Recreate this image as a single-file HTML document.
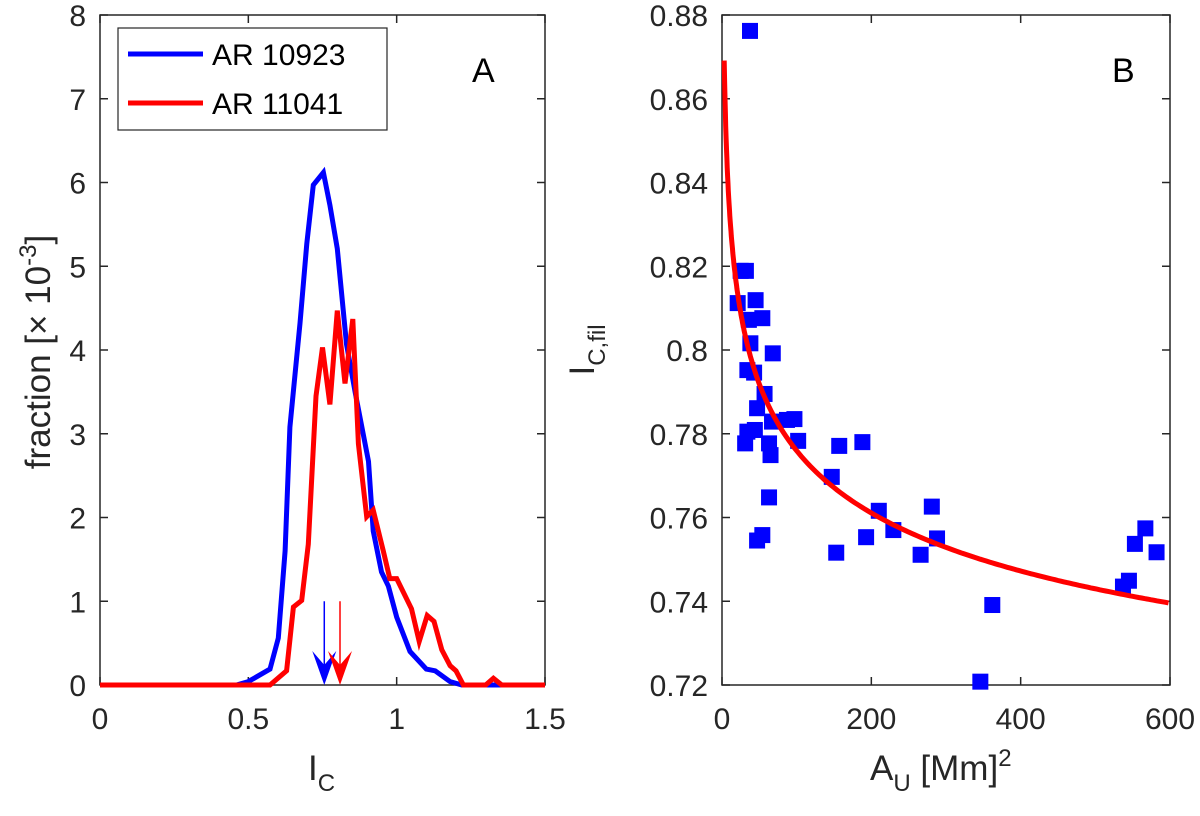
<!DOCTYPE html>
<html><head><meta charset="utf-8"><style>
html,body{margin:0;padding:0;background:#fff;}
svg{display:block;font-family:"Liberation Sans",Arial,sans-serif;}
</style></head><body>
<svg id="fig" width="1200" height="816" viewBox="0 0 1200 816"></svg>
<script>
// Panel A data
const histX_AR10923 = [0,0.46,0.5,0.573,0.601,0.624,0.64,0.674,0.697,0.719,0.753,0.775,0.8,0.831,0.86,0.905,0.921,0.949,0.972,1.0,1.045,1.1,1.13,1.18,1.22,1.5];
const histY_AR10923 = [0,0,0.04,0.19,0.56,1.6,3.08,4.32,5.27,5.97,6.12,5.73,5.21,4.07,3.5,2.67,1.84,1.35,1.18,0.81,0.4,0.19,0.17,0.04,0,0];
const histX_AR11041 = [0,0.573,0.629,0.652,0.68,0.702,0.728,0.75,0.775,0.8,0.826,0.852,0.871,0.899,0.921,0.955,0.977,1.0,1.05,1.076,1.103,1.126,1.152,1.18,1.2,1.225,1.3,1.326,1.354,1.5];
const histY_AR11041 = [0,0,0.17,0.93,1.01,1.68,3.45,4.03,3.35,4.47,3.6,4.37,2.88,2.01,2.09,1.6,1.27,1.27,0.91,0.52,0.83,0.76,0.42,0.23,0.17,0,0,0.08,0,0];
const meanIC = [0.756, 0.809];
const ticksAX = [0,0.5,1,1.5];
const ticksAY = [0,1,2,3,4,5,6,7,8];
// Panel B data
const areaU = [37.5,25,32,21,45,54,36,38,68,34,43,57,47,87,97,67,34,44,31,63,102,65,63,54,47,157,188,147,153,210,193,229.5,281,288,266,362,346,537,545,553,567,582];
const icFil = [0.8762,0.8189,0.8189,0.8112,0.8119,0.8076,0.8072,0.8016,0.7992,0.7952,0.7946,0.7895,0.7861,0.7833,0.7835,0.7829,0.7805,0.7809,0.7777,0.7777,0.7783,0.7749,0.7648,0.7558,0.7545,0.7771,0.7780,0.7697,0.7516,0.7616,0.7553,0.7570,0.7626,0.7550,0.7511,0.7391,0.7208,0.7435,0.7449,0.7537,0.7574,0.7517];
const fitParams = [0.5541, 0.3516, -0.1]; // y = a + b*x^c
const ticksBX = [0,200,400,600];
const ticksBY = [0.72,0.74,0.76,0.78,0.8,0.82,0.84,0.86,0.88];

const NS="http://www.w3.org/2000/svg";
const svg=document.getElementById('fig');
function mk(tag,attrs,parent){const e=document.createElementNS(NS,tag);for(const k in attrs)e.setAttribute(k,attrs[k]);(parent||svg).appendChild(e);return e;}

const A={x0:100,x1:545,y0:685,y1:15};
const ax=v=>A.x0+(v-0)/1.5*(A.x1-A.x0);
const ay=v=>A.y0-(v/8)*(A.y0-A.y1);
const B={x0:722,x1:1170,y0:685,y1:15};
const bx=v=>B.x0+v/600*(B.x1-B.x0);
const by=v=>B.y0-(v-0.72)/0.16*(B.y0-B.y1);

function drawAxes(P,xt,yt,fx,fy,fmtX,fmtY,name){
  const g=mk('g',{});
  
  
  const box=mk('rect',{x:P.x0,y:P.y1,width:P.x1-P.x0,height:P.y0-P.y1,fill:'none',stroke:'#262626','stroke-width':1.5},g);
  
  
  xt.forEach(t=>{const x=fx(t);
    mk('line',{x1:x,y1:P.y0,x2:x,y2:P.y0-8,stroke:'#262626','stroke-width':1.5},g);
    mk('line',{x1:x,y1:P.y1,x2:x,y2:P.y1+8,stroke:'#262626','stroke-width':1.5},g);
    const tx=mk('text',{x:x,y:P.y0+44,'font-size':30,'text-anchor':'middle',fill:'#262626'},g);
    tx.textContent=fmtX(t);
    
    
  });
  yt.forEach(t=>{const y=fy(t);
    mk('line',{x1:P.x0,y1:y,x2:P.x0+8,y2:y,stroke:'#262626','stroke-width':1.5},g);
    mk('line',{x1:P.x1,y1:y,x2:P.x1-8,y2:y,stroke:'#262626','stroke-width':1.5},g);
    const tx=mk('text',{x:P.x0-14,y:y+11,'font-size':30,'text-anchor':'end',fill:'#262626'},g);
    tx.textContent=fmtY(t);
    
    
  });
}
drawAxes(A,ticksAX,ticksAY,ax,ay,t=>String(t),t=>String(t),'panel-a');
drawAxes(B,ticksBX,ticksBY,bx,by,t=>String(t),t=>String(+t.toFixed(2)),'panel-b');

function poly(xs,ys,color,name){
  const pts=xs.map((x,i)=>ax(x).toFixed(1)+','+ay(ys[i]).toFixed(1)).join(' ');
  const p=mk('polyline',{points:pts,fill:'none',stroke:color,'stroke-width':5,'stroke-linejoin':'miter'});
  
  
}
poly(histX_AR10923,histY_AR10923,'#0000ff','line-ar10923');
poly(histX_AR11041,histY_AR11041,'#ff0000','line-ar11041');
['#0000ff','#ff0000'].forEach((c,i)=>{
  const x=ax(meanIC[i]);
  const g=mk('g',{});
  
  
  mk('line',{x1:x,y1:ay(1),x2:x,y2:ay(0)-10,stroke:c,'stroke-width':1.5},g);
  mk('polygon',{points:`${x-12},${ay(0)-34} ${x},${ay(0)-20} ${x+12},${ay(0)-34} ${x},${ay(0)}`,fill:c},g);
});

const lg=mk('g',{});


mk('rect',{x:118,y:28,width:269,height:102,fill:'#fff',stroke:'#262626','stroke-width':1.2},lg);
[['#0000ff','AR 10923',54],['#ff0000','AR 11041',103]].forEach(([c,t,y],i)=>{
  const e=mk('g',{},lg);
  
  
  mk('line',{x1:128,y1:y,x2:203,y2:y,stroke:c,'stroke-width':5},e);
  const tx=mk('text',{x:212,y:y+11,'font-size':30,fill:'#000'},e);tx.textContent=t;
});

areaU.forEach((a,i)=>{
  const r=mk('rect',{x:bx(a)-8,y:by(icFil[i])-8,width:16,height:16,fill:'#0000ff'});
  
  
});
let fp=[];
for(let x=3;x<=600;x+= (x<30?0.5:4)){const y=fitParams[0]+fitParams[1]*Math.pow(x,fitParams[2]);fp.push(bx(x).toFixed(1)+','+by(y).toFixed(1));}
const fitLine=mk('polyline',{points:fp.join(' '),fill:'none',stroke:'#ff0000','stroke-width':5});


</script>
<svg width="1200" height="816" style="position:absolute;left:0;top:0;font-family:'Liberation Sans',Arial,sans-serif">
  <text x="472" y="82" font-size="34">A</text>
  <text x="1112" y="82" font-size="34">B</text>
  <text transform="translate(50,352) rotate(-90)" font-size="35" text-anchor="middle" fill="#262626">fraction [× 10<tspan dy="-14" font-size="24">-3</tspan><tspan dy="14">]</tspan></text>
  <text x="308" y="780" font-size="35" fill="#262626">I<tspan dy="11" font-size="24">C</tspan></text>
  <text transform="translate(594,350) rotate(-90)" font-size="35" text-anchor="middle" fill="#262626">I<tspan dy="11" font-size="24">C,fil</tspan></text>
  <text x="870" y="780" font-size="35" fill="#262626">A<tspan dy="11" font-size="24">U</tspan><tspan dy="-11"> [Mm]</tspan><tspan dy="-14" font-size="24">2</tspan></text>
</svg>
</body></html>
